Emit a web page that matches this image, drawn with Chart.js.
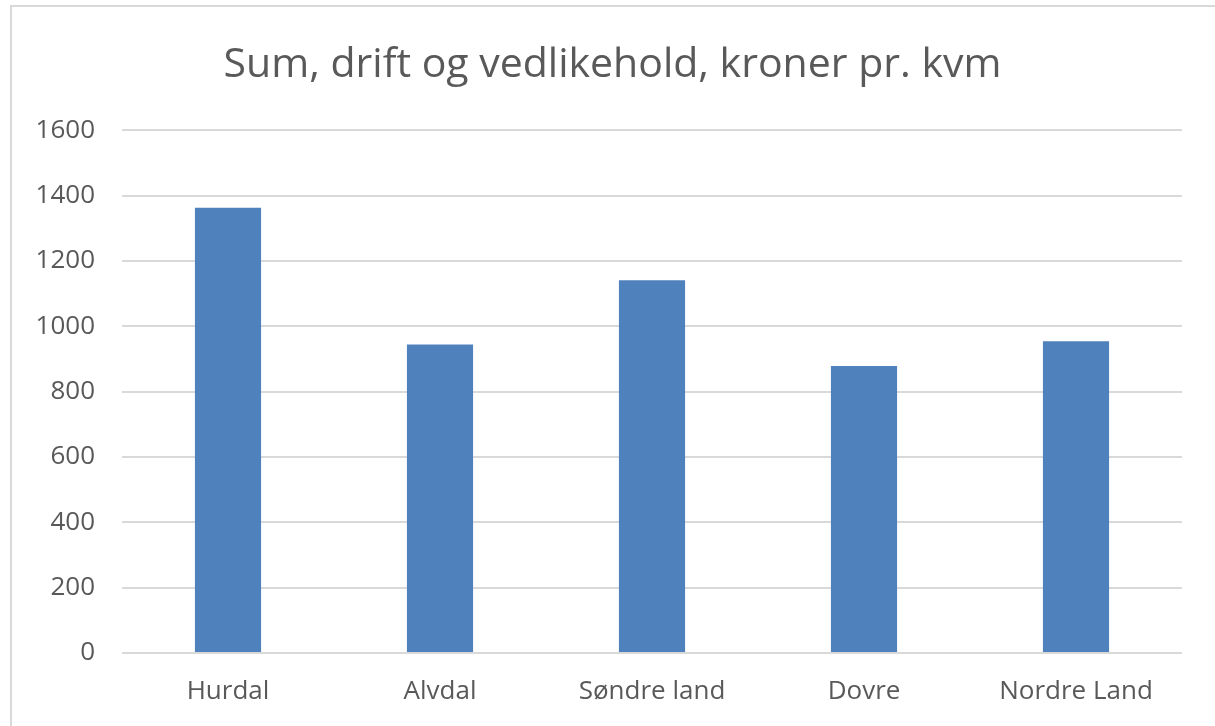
<!DOCTYPE html>
<html>
<head>
<meta charset="utf-8">
<script src="https://cdn.jsdelivr.net/npm/chart.js@4/dist/chart.umd.min.js"></script>
<style>
  html, body { margin: 0; padding: 0; background: #ffffff; overflow: hidden; }
  #wrap { position: absolute; left: 0; top: 0; width: 1215px; height: 726px; }
  #frame { position: absolute; left: 10px; top: 5px; width: 1220px; height: 740px; border: 2px solid #d9d9d9; box-sizing: border-box; }
  canvas { position: absolute; left: 0; top: 0; }
</style>
</head>
<body>
<div id="wrap">
  <div id="frame"></div>
  <canvas id="c" width="1215" height="726"></canvas>
</div>
<script>
const titleText = "Sum, drift og vedlikehold, kroner pr. kvm";
const categories = ["Hurdal", "Alvdal", "Søndre land", "Dovre", "Nordre Land"];
const values = [1363, 944, 1141, 878, 954];
const yMin = 0;
const yMax = 1600;
const yStep = 200;

const textColor = "#595959";
const font = "'Open Sans', 'DejaVu Sans', sans-serif";

const centerTitle = {
  id: "centerTitle",
  afterLayout(chart) {
    if (chart.titleBlock) { chart.titleBlock.left = 43; }
  }
};

new Chart(document.getElementById("c"), {
  type: "bar",
  data: {
    labels: categories,
    datasets: [{
      data: values,
      backgroundColor: "#4f81bd",
      borderWidth: 0,
      categoryPercentage: 1.0,
      barPercentage: 0.312
    }]
  },
  plugins: [centerTitle],
  options: {
    responsive: false,
    animation: false,
    devicePixelRatio: 1,
    layout: { padding: { left: 0, right: 33, top: 0, bottom: 0 } },
    plugins: {
      legend: { display: false },
      tooltip: { enabled: false },
      title: {
        display: true,
        text: titleText,
        color: textColor,
        font: { family: font, size: 41, weight: "normal" },
        padding: { top: 41, bottom: 40 }
      }
    },
    scales: {
      x: {
        grid: { display: false, drawTicks: false },
        border: { display: false },
        ticks: {
          color: textColor,
          font: { family: font, size: 26 },
          padding: 23,
          maxRotation: 0,
          autoSkip: false
        },
        afterFit: (s) => { s.height = 73; }
      },
      y: {
        min: yMin,
        max: yMax,
        grid: { color: "#d9d9d9", lineWidth: 2, drawTicks: false },
        border: { display: false },
        ticks: {
          stepSize: yStep,
          color: textColor,
          font: { family: font, size: 26 },
          padding: 27,
          callback: (v) => String(v)
        },
        afterFit: (s) => { s.width = 122; }
      }
    }
  }
});
</script>
</body>
</html>
